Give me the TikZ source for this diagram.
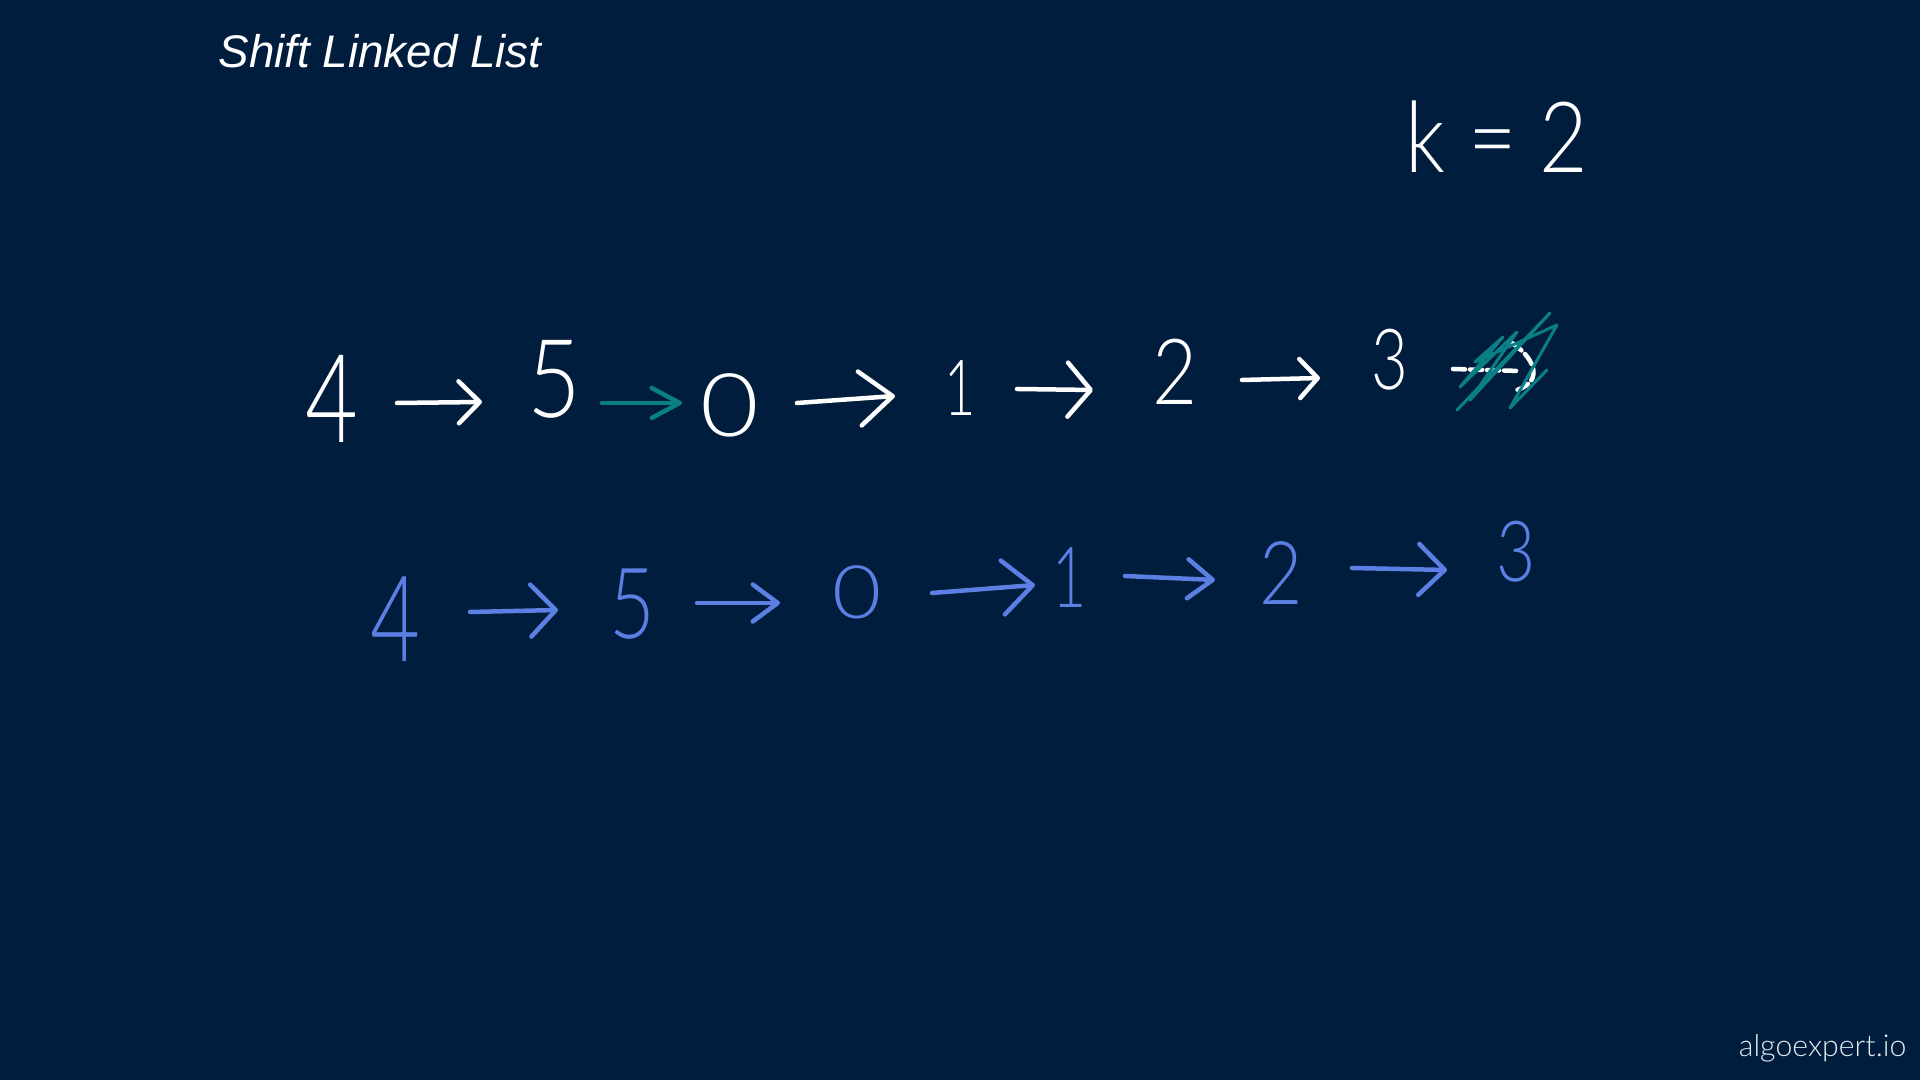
\documentclass[tikz,border=0pt]{standalone}
\usepackage{fontspec}
\usepackage{graphicx}
\usetikzlibrary{arrows.meta}
\newfontfamily\hand{Lato}[UprightFont={* Light}]
\newfontfamily\wmfont{Lato}[UprightFont={* Light}]
\newfontfamily\titlefont{Liberation Sans}
\definecolor{bgc}{HTML}{001D3D}
\definecolor{hblue}{HTML}{5C7FE3}
\definecolor{hteal}{HTML}{0A7F86}
\definecolor{wmark}{HTML}{E6EBF0}
\newcommand\hdig[3][0.85]{\scalebox{#1}[1]{\fontsize{#2}{#2}\selectfont #3}}
\begin{document}
\begin{tikzpicture}[x=0.01cm,y=-0.01cm,
  dig/.style={inner sep=0pt, outer sep=0pt, font=\hand},
  wdig/.style={dig,text=white},
  bdig/.style={dig,text=hblue},
  stroke/.style={line width=0.045cm, line cap=round, line join=round},
  harr/.style 2 args={stroke,-{Straight Barb[round,length=#1,width=#2]}},
]
\fill[bgc] (0,0) rectangle (1920,1080);
\useasboundingbox (0,0) rectangle (1920,1080);

% title and watermark
\node[anchor=base west, inner sep=0pt, text=white,
      font={\titlefont\itshape\fontsize{13}{13}\selectfont}] (title) at (218,68) {Shift Linked List};
\node[anchor=base east, inner sep=0pt, text=wmark,
      font={\wmfont\fontsize{8.6}{8.6}\selectfont}] (wm) at (1907,1057) {algoexpert.io};

% k = 2
\node[wdig, anchor=base] (k) at (1497,173) {\scalebox{0.85}[1]{\fontsize{28}{28}\selectfont k = 2}};

% first row (white)
\node[wdig] (a4) at (332,399) {\hdig[0.74]{35}{4}};
\node[wdig] (a5) at (554,379) {\hdig{31}{5}};
\node[wdig] (a0) at (730,405) {\hdig[1.15]{25}{0}};
\node[wdig] (a1) at (960,388) {\hdig[0.7]{22}{1}};
\node[wdig] (a2) at (1175,372) {\hdig{26}{2}};
\node[wdig] (a3) at (1390,360) {\hdig[0.75]{24}{3}};

\coordinate (p1s) at (397,403);  \coordinate (p1e) at (482,402);
\coordinate (p2s) at (602,403);  \coordinate (p2e) at (682,403);
\coordinate (p3s) at (797,403);  \coordinate (p3e) at (895,396);
\coordinate (p4s) at (1017,389); \coordinate (p4e) at (1093,390);
\coordinate (p5s) at (1242,380); \coordinate (p5e) at (1320,378);

\draw[white, harr={0.21cm}{0.42cm}] (p1s) -- (p1e);
\draw[hteal, harr={0.28cm}{0.30cm}] (p2s) -- (p2e);
\draw[white, harr={0.33cm}{0.54cm}] (p3s) -- (p3e);
\draw[white, harr={0.23cm}{0.54cm}] (p4s) -- (p4e);
\draw[white, harr={0.18cm}{0.39cm}] (p5s) -- (p5e);

% crossed-out last arrow
\coordinate (x1s) at (1453,369); \coordinate (x1e) at (1520,371);
\coordinate (x1t) at (1512,343); \coordinate (x1b) at (1517,390);
\draw[white, stroke, dash pattern=on 0.12cm off 0.05cm] (x1s) -- (x1e);
\draw[white, stroke, dash pattern=on 0.12cm off 0.05cm]
  (x1t) .. controls (1532,356) and (1546,380) .. (x1b);
\draw[hteal, line width=0.03cm, line cap=round, line join=round]
  (1457,410) -- (1550,313) -- (1470,400) -- (1517,332) -- (1460,387)
  -- (1503,337) -- (1475,362) -- (1557,325) -- (1510,408) -- (1547,370);

% second row (blue)
\node[bdig] (b4) at (395,619) {\hdig[0.72]{34}{4}};
\node[bdig] (b5) at (632,604) {\hdig[0.8]{28}{5}};
\node[bdig] (b0) at (857,592) {\hdig[1.15]{21}{0}};
\node[bdig] (b1) at (1070,578) {\hdig[0.7]{24}{1}};
\node[bdig] (b2) at (1281,573) {\hdig{25}{2}};
\node[bdig] (b3) at (1516,552) {\hdig[0.8]{24}{3}};

\coordinate (q1s) at (470,612);  \coordinate (q1e) at (558,610);
\coordinate (q2s) at (697,603);  \coordinate (q2e) at (780,603);
\coordinate (q3s) at (932,593);  \coordinate (q3e) at (1035,585);
\coordinate (q4s) at (1125,576); \coordinate (q4e) at (1215,580);
\coordinate (q5s) at (1352,568); \coordinate (q5e) at (1447,570);

\draw[hblue, harr={0.25cm}{0.52cm}] (q1s) -- (q1e);
\draw[hblue, harr={0.25cm}{0.37cm}] (q2s) -- (q2e);
\draw[hblue, harr={0.30cm}{0.54cm}] (q3s) -- (q3e);
\draw[hblue, harr={0.25cm}{0.39cm}] (q4s) -- (q4e);
\draw[hblue, harr={0.26cm}{0.51cm}] (q5s) -- (q5e);
\end{tikzpicture}
\end{document}
